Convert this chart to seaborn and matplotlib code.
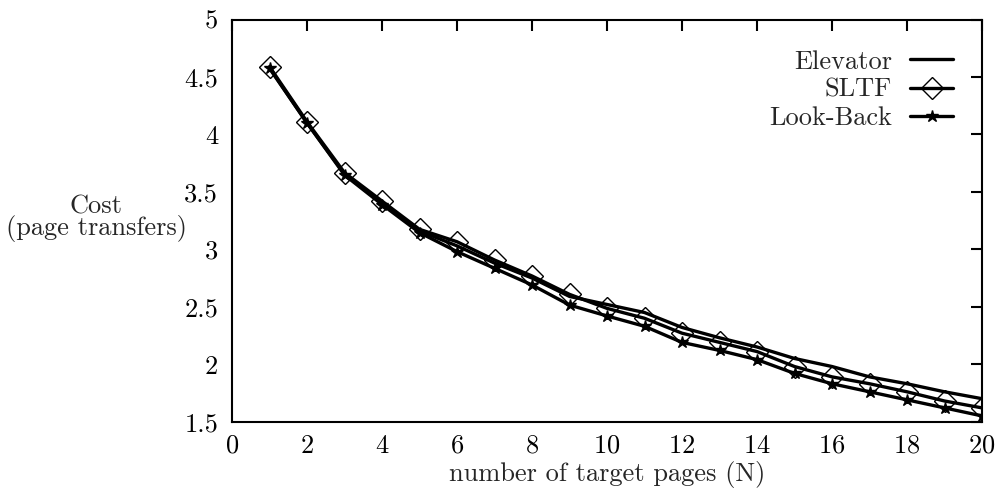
import matplotlib
matplotlib.use("Agg")
import matplotlib.pyplot as plt
import seaborn as sns
import pandas as pd

N = list(range(1, 21))
elevator = [4.58, 4.10, 3.655, 3.40, 3.16, 3.03, 2.88, 2.75, 2.59, 2.52,
            2.45, 2.32, 2.23, 2.15, 2.05, 1.98, 1.89, 1.83, 1.76, 1.70]
sltf = [4.59, 4.11, 3.667, 3.42, 3.174, 3.066, 2.907, 2.768, 2.608, 2.486,
        2.40, 2.27, 2.19, 2.11, 1.98, 1.89, 1.83, 1.76, 1.68, 1.62]
lookback = [4.575, 4.10, 3.647, 3.39, 3.145, 2.98, 2.835, 2.69, 2.515, 2.42,
            2.33, 2.19, 2.12, 2.04, 1.92, 1.83, 1.76, 1.69, 1.62, 1.55]
series_names = ["Elevator", "SLTF", "Look-Back"]
x_ticks = [0, 2, 4, 6, 8, 10, 12, 14, 16, 18, 20]
y_ticks = [1.5, 2, 2.5, 3, 3.5, 4, 4.5, 5]

sns.set_theme(style="white")
plt.rcParams["font.family"] = ["cmr10", "DejaVu Serif"]
plt.rcParams["axes.formatter.use_mathtext"] = True
plt.rcParams["mathtext.fontset"] = "cm"

FS = 19

fig = plt.figure(figsize=(9.97, 4.94), dpi=100)
ax = fig.add_axes([0.2327, 0.1464, 0.985 - 0.2327, 0.9605 - 0.1464])

markers = [None, "D", "*"]
msizes = [0, 11, 9]
for name, vals, m, ms in zip(series_names, [elevator, sltf, lookback], markers, msizes):
    df = pd.DataFrame({"N": N, "cost": vals})
    sns.lineplot(data=df, x="N", y="cost", ax=ax, color="black", linewidth=2.4,
                 marker=m, markersize=ms, markerfacecolor="none" if m == "D" else "black",
                 markeredgecolor="black", markeredgewidth=1.0, label=name)

ax.set_xlim(0, 20)
ax.set_ylim(1.5, 5)
ax.set_xticks(x_ticks)
ax.set_yticks(y_ticks)
ax.set_yticklabels([("%g" % v) for v in y_ticks])
ax.tick_params(direction="in", length=8, width=1.5, top=True, right=True,
               labelsize=FS, colors="black", pad=10)
ax.tick_params(axis="x", pad=9)
for s in ax.spines.values():
    s.set_linewidth(1.5)
    s.set_color("black")

ax.set_xlabel("number of target pages (N)", fontsize=FS, labelpad=2)
ax.set_ylabel("Cost\n(page transfers)", fontsize=FS, rotation=0, ha="center",
              va="center", linespacing=0.85)
ax.yaxis.set_label_coords(-0.181, 0.505)

leg = ax.legend(loc="upper right", frameon=False, markerfirst=False, fontsize=FS,
                handlelength=1.6, borderaxespad=0.6, labelspacing=0.17,
                handletextpad=0.7, bbox_to_anchor=(1 - 3 / 750, 1 - 4 / 402))
for t in leg.get_texts():
    t.set_ha("right")
leg._legend_box.align = "right"

fig.savefig("out.png", dpi=100)
